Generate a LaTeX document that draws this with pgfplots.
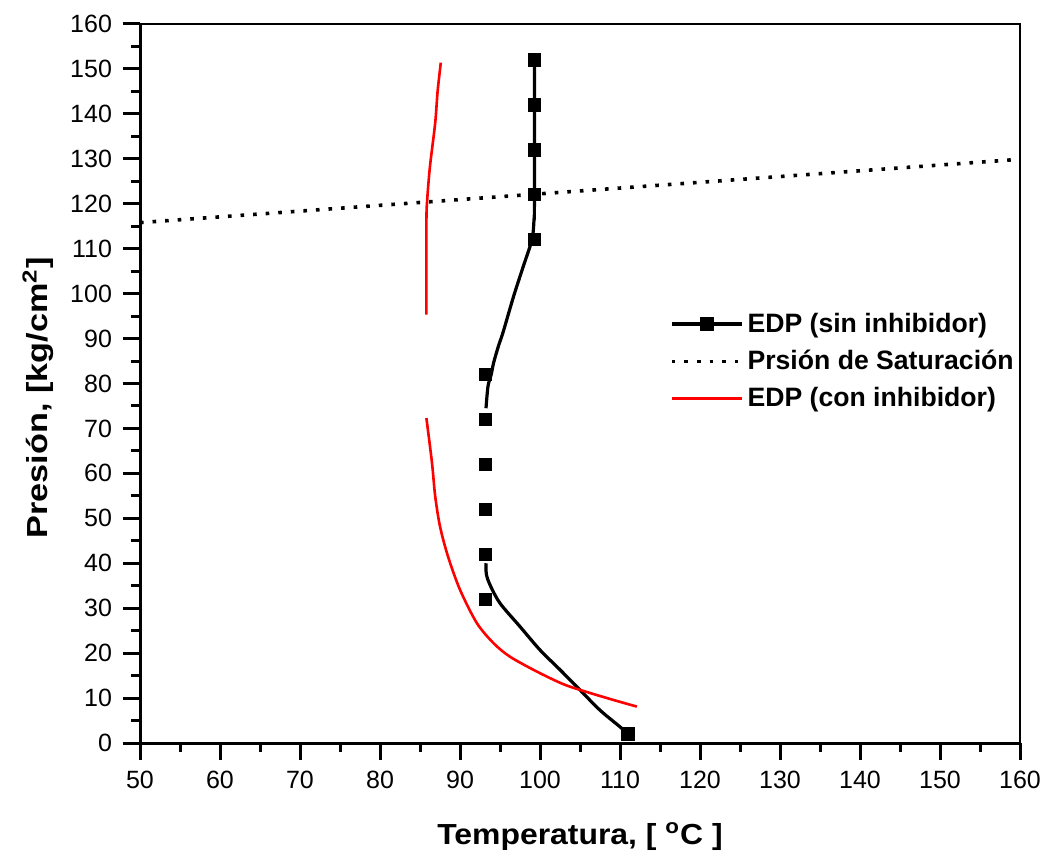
\documentclass[border=0pt]{standalone}
\usepackage{pgfplots}
\pgfplotsset{compat=1.18}
\usepackage{fontspec}
\setmainfont{Liberation Sans}

% legend sample: a line with one mark in the middle
\pgfplotsset{
  linemarklegend/.style={
    legend image code/.code={
      \draw[black, line width=1.6pt] (0pt,0pt) -- (35pt,0pt);
      \draw[mark repeat=2,mark phase=2,##1] plot coordinates {(0pt,0pt) (17.5pt,0pt) (35pt,0pt)};}
  }
}

\begin{document}
\begin{tikzpicture}
\begin{axis}[
  scale only axis,
  width=440pt, height=359.5pt,
  xmin=50, xmax=160, ymin=0, ymax=160,
  xtick={50,60,...,160}, ytick={0,10,...,160},
  minor x tick num=1, minor y tick num=1,
  tick align=outside,
  major tick length=8.5pt, minor tick length=4.5pt,
  every tick/.style={black, line width=1.5pt},
  axis lines*=left,
  axis line style={line width=1.5pt},
  clip=false,
  /pgf/number format/assume math mode=true,
  ticklabel style={font=\fontsize{12.5}{14}\selectfont},
  xticklabel style={yshift=-2pt},
  yticklabel style={xshift=-2pt},
  xlabel={\scalebox{1.1}[1]{\textbf{Temperatura, [ \textsuperscript{o}C ]}}},
  ylabel={\scalebox{1.18}[1]{\textbf{Presión, [kg/cm\textsuperscript{2}]}}},
  xlabel style={font=\fontsize{14.5}{16}\selectfont, at={(axis description cs:0.5,-0.13)}, anchor=center},
  ylabel style={font=\fontsize{14.5}{16}\selectfont, at={(axis description cs:-0.116,0.48)}, anchor=center},
  legend style={draw=none, fill=none, at={(axis description cs:0.595,0.61)}, anchor=north west,
    font=\bfseries\fontsize{13.3}{15}\selectfont, row sep=3.5pt},
  legend cell align=left,
  legend image code/.code={\draw[mark repeat=2,mark phase=2,#1] plot coordinates {(0pt,0pt) (17.5pt,0pt) (35pt,0pt)};},
]

% upper and right frame lines, thinner than the main axes
\draw[line width=1pt] (rel axis cs:0,1) -- (rel axis cs:1,1) -- (rel axis cs:1,0);

% EDP without inhibitor: traced curve (with a gap between 40 and 74)
\addplot[black, line width=1.6pt, smooth, unbounded coords=jump, forget plot] coordinates {
  (111,2) (110,3.6) (107.5,7.3) (105,11.8) (102.5,16.3) (100,20.7)
  (97.5,25.9) (95,31.1) (93.8,35) (93.3,37.5) (93.25,40)
  (93.25,nan)
  (93.25,74.5) (93.5,79.4) (93.9,82) (94.2,84.6) (94.8,88.3) (95.4,91.5)
  (96.7,99.4) (97.9,106) (98.75,110.5) (99.1,113) (99.25,116.5) (99.3,120) (99.3,152)
};
% EDP without inhibitor: measured points
\addplot[black, line width=1.6pt, only marks, mark=square*, mark size=3.1pt,
  mark options={line width=0.5pt}, linemarklegend]
  coordinates {
  (99.3,152) (99.3,142) (99.3,132) (99.3,122) (99.3,112)
  (93.2,82) (93.2,72) (93.2,62) (93.2,52) (93.2,42) (93.2,32) (111,2)
};
\addlegendentry{EDP (sin inhibidor)}

% saturation pressure
\addplot[black, line width=1.8pt, line cap=butt, dash pattern=on 1.8pt off 4.5pt] coordinates {
  (50,115.8) (160,129.9)
};
\addlegendentry{Prsión de Saturación}

% EDP with inhibitor
\addplot[red, line width=1.3pt, smooth, unbounded coords=jump] coordinates {
  (87.6,151.4) (87.2,145) (86.9,138) (86.25,128.4) (85.9,120.9) (85.8,115.7) (85.8,95.3)
  (85.8,nan)
  (85.8,72.3) (86.5,62.3) (86.9,54.9) (87.5,48.2) (88.5,41.5) (90,34.1) (92.1,26.7)
  (94.2,22.2) (96.25,19.2) (99.6,15.9) (102.9,13.1) (105.4,11.6) (108.75,9.8) (112.1,8.1)
};
\addlegendentry{EDP (con inhibidor)}
\end{axis}

\pgfresetboundingbox
\path (current axis.south west) ++(-70pt,-56.5pt);
\path (current axis.north east) ++(16pt,12pt);
\end{tikzpicture}
\end{document}
